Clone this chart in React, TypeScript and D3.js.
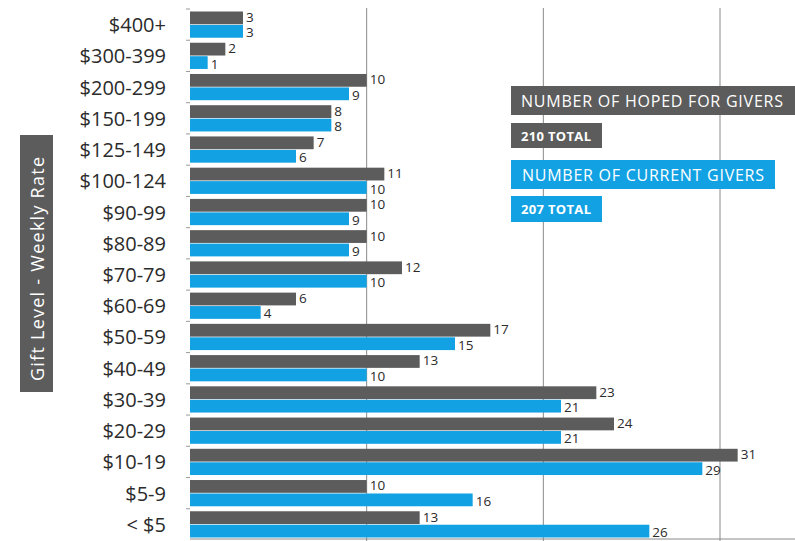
import React from "react";
import * as d3 from "d3";

const categories = ["$400+", "$300-399", "$200-299", "$150-199", "$125-149", "$100-124", "$90-99", "$80-89", "$70-79", "$60-69", "$50-59", "$40-49", "$30-39", "$20-29", "$10-19", "$5-9", "< $5"];
const hoped = [3, 2, 10, 8, 7, 11, 10, 10, 12, 6, 17, 13, 23, 24, 31, 10, 13];
const current = [3, 1, 9, 8, 6, 10, 9, 9, 10, 4, 15, 10, 21, 21, 29, 16, 26];
const seriesKeys = ["hoped", "current"];
const gridTicks = [10, 20, 30];
const legendTitles = ["NUMBER OF HOPED FOR GIVERS", "NUMBER OF CURRENT GIVERS"];
const legendTotals = ["210 TOTAL", "207 TOTAL"];
const axisTitle = "Gift Level - Weekly Rate";

const W = 795;
const H = 541;
const GRAY = "#5c5c5c";
const BLUE = "#12a2e3";
const FONT = "'Open Sans', 'Lato', sans-serif";

export default function App() {
  const x = d3.scaleLinear().domain([0, 30]).range([190, 720]);
  const y = d3.scaleBand<string>().domain(categories).range([9, 540]).padding(0);
  const sub = d3.scaleBand<string>().domain(seriesKeys).range([2.5, y.bandwidth() - 2.5]).paddingInner(0.05);
  const colors = [GRAY, BLUE];
  const values = [hoped, current];

  return (
    <div style={{ position: "absolute", left: 0, top: 0 }}>
      <svg width={W} height={H} style={{ display: "block", background: "#fff" }}>
        {gridTicks.map((t) => (
          <line key={t} x1={x(t)} x2={x(t)} y1={8} y2={H} stroke="#8a8a8a" strokeWidth={1} />
        ))}
        <line x1={x(0)} x2={W} y1={539} y2={539} stroke="#8a8a8a" strokeWidth={1} />
        {categories.map((c) => (
          <line key={"t" + c} x1={x(0) - 4} x2={x(0)} y1={y(c)!} y2={y(c)!} stroke="#9a9a9a" strokeWidth={1} />
        ))}
        {categories.map((c, i) => (
          <g key={c}>
            <text x={166} y={y(c)! + y.bandwidth() / 2} textAnchor="end" dominantBaseline="central" fontFamily={FONT} fontSize={20} fill="#2b2b2b">
              {c}
            </text>
            {seriesKeys.map((k, j) => {
              const v = values[j][i];
              const by = y(c)! + sub(k)!;
              return (
                <g key={k}>
                  <rect x={x(0)} y={by} width={x(v) - x(0)} height={sub.bandwidth()} fill={colors[j]} />
                  <text x={x(v) + 3} y={by + sub.bandwidth() / 2 + (j === 0 ? -1 : 1)} dominantBaseline="central" fontFamily={FONT} fontSize={13.5} fill="#2b2b2b">
                    {v}
                  </text>
                </g>
              );
            })}
          </g>
        ))}
        {/* legend */}
        <rect x={511} y={86} width={284} height={29} fill={GRAY} />
        <text x={521} y={101} dominantBaseline="central" fontFamily={FONT} fontSize={16} fill="#fff" textLength={262} lengthAdjust="spacing">{legendTitles[0]}</text>
        <rect x={511} y={123} width={91} height={25} fill={GRAY} />
        <text x={521} y={136} dominantBaseline="central" fontFamily={FONT} fontSize={13} fontWeight="bold" fill="#fff" textLength={70} lengthAdjust="spacing">{legendTotals[0]}</text>
        <rect x={511} y={160} width={264} height={29} fill={BLUE} />
        <text x={522} y={175} dominantBaseline="central" fontFamily={FONT} fontSize={16} fill="#fff" textLength={242} lengthAdjust="spacing">{legendTitles[1]}</text>
        <rect x={511} y={196} width={91} height={26} fill={BLUE} />
        <text x={521} y={209} dominantBaseline="central" fontFamily={FONT} fontSize={13} fontWeight="bold" fill="#fff" textLength={70} lengthAdjust="spacing">{legendTotals[1]}</text>
        {/* axis title */}
        <rect x={20} y={135} width={33} height={257} fill={GRAY} />
        <text transform={`translate(37,381) rotate(-90)`} dominantBaseline="central" fontFamily={FONT} fontSize={18} fill="#fff" textLength={224} lengthAdjust="spacing">
          {axisTitle}
        </text>
      </svg>
    </div>
  );
}
